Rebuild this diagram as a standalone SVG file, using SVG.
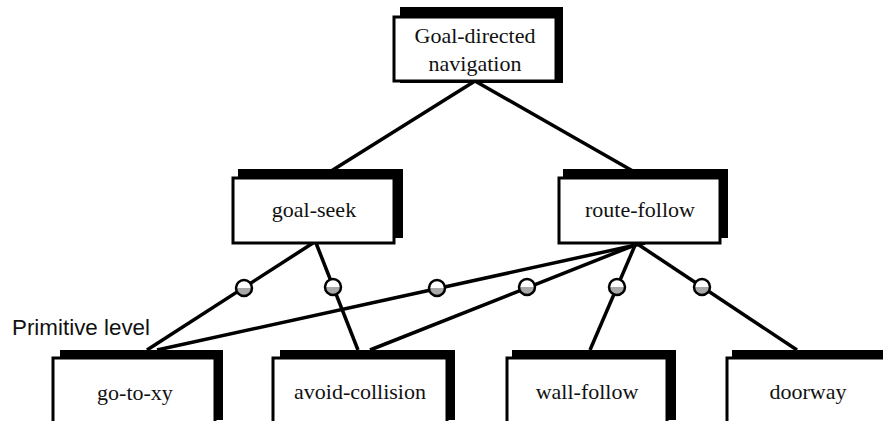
<svg xmlns="http://www.w3.org/2000/svg" width="883" height="421" viewBox="0 0 883 421">
<defs>
<linearGradient id="half" x1="0" y1="0" x2="0" y2="1">
<stop offset="0.5" stop-color="#ffffff"/>
<stop offset="0.5" stop-color="#a8a8a8"/>
</linearGradient>
<style>
.shadow{fill:#000}
.box{fill:#fff;stroke:#000;stroke-width:3}
.lbl{font-family:"Liberation Serif","Times New Roman",serif;font-size:22px;fill:#111;text-anchor:middle}
.edge{stroke:#000;stroke-width:3.5;fill:none}
.knob{fill:url(#half);stroke:#000;stroke-width:2.5}
.note{font-family:"Liberation Sans",Arial,sans-serif;font-size:22px;fill:#111}
</style>
</defs>
<rect width="883" height="421" fill="#fff"/>
<g id="connectors">
<line class="edge" x1="475" y1="81" x2="320" y2="178"/>
<line class="edge" x1="475" y1="81" x2="645" y2="178"/>
<line class="edge" x1="313" y1="243" x2="147" y2="350"/>
<line class="edge" x1="316" y1="243" x2="358" y2="350"/>
<line class="edge" x1="645" y1="243" x2="157" y2="350"/>
<line class="edge" x1="640" y1="243" x2="370" y2="350"/>
<line class="edge" x1="636" y1="243" x2="590" y2="350"/>
<line class="edge" x1="636" y1="243" x2="797" y2="350"/>
<circle class="knob" cx="244" cy="288" r="8"/>
<circle class="knob" cx="333" cy="287" r="8"/>
<circle class="knob" cx="437" cy="288" r="8"/>
<circle class="knob" cx="527" cy="287" r="8"/>
<circle class="knob" cx="617" cy="287" r="8"/>
<circle class="knob" cx="702" cy="287" r="8"/>
</g>
<g id="goal-directed-navigation">
<rect class="shadow" x="400" y="7" width="163" height="76"/>
<rect class="box" x="394" y="17" width="162" height="64"/>
<text class="lbl" x="475" y="43">Goal-directed</text>
<text class="lbl" x="475" y="71">navigation</text>
</g>
<g id="goal-seek">
<rect class="shadow" x="238" y="169" width="165" height="69"/>
<rect class="box" x="233" y="178" width="161" height="65"/>
<text class="lbl" x="314" y="217">goal-seek</text>
</g>
<g id="route-follow">
<rect class="shadow" x="563" y="169" width="165" height="69"/>
<rect class="box" x="559" y="178" width="161" height="65"/>
<text class="lbl" x="640" y="217">route-follow</text>
</g>
<text class="note" x="12" y="335" textLength="138" lengthAdjust="spacingAndGlyphs">Primitive level</text>
<g id="go-to-xy">
<rect class="shadow" x="60" y="350" width="163" height="70"/>
<rect class="box" x="53" y="358" width="162" height="80"/>
<text class="lbl" x="135" y="400">go-to-xy</text>
</g>
<g id="avoid-collision">
<rect class="shadow" x="280" y="350" width="175" height="70"/>
<rect class="box" x="273" y="358" width="174" height="80"/>
<text class="lbl" x="360" y="399">avoid-collision</text>
</g>
<g id="wall-follow">
<rect class="shadow" x="512" y="350" width="164" height="70"/>
<rect class="box" x="507" y="358" width="160" height="80"/>
<text class="lbl" x="587" y="399">wall-follow</text>
</g>
<g id="doorway">
<rect class="shadow" x="732" y="350" width="170" height="70"/>
<rect class="box" x="727" y="358" width="170" height="80"/>
<text class="lbl" x="808" y="399">doorway</text>
</g>
</svg>
